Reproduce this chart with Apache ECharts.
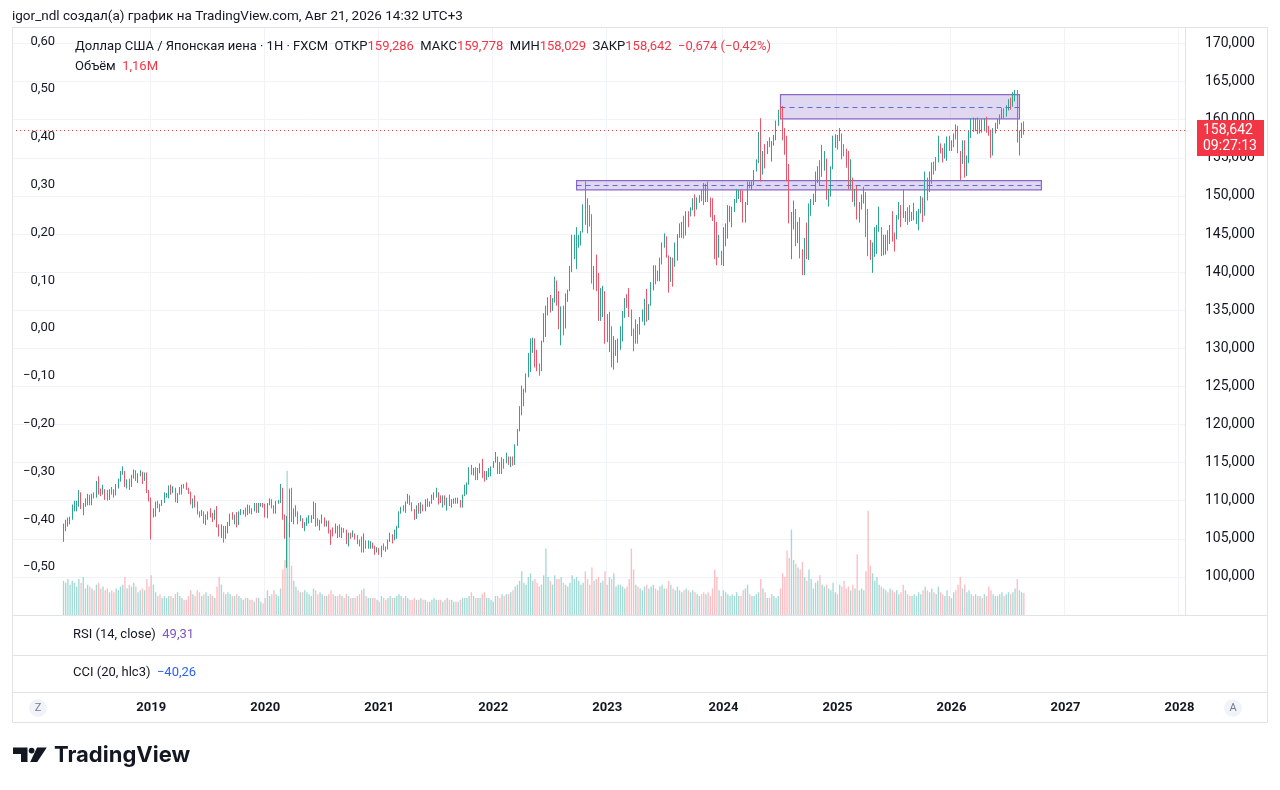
<!DOCTYPE html>
<html>
<head>
<meta charset="utf-8">
<title>USDJPY 1W</title>
<script src="https://cdn.jsdelivr.net/npm/echarts@6/dist/echarts.min.js"></script>
<style>
html, body { margin: 0; padding: 0; background: #fff; }
#chart { width: 1280px; height: 790px; }
</style>
</head>
<body>
<div id="chart"></div>
<script>
var FONT = 'Roboto, "Noto Sans", "DejaVu Sans", sans-serif';
var upColor = '#2fa58f';
var downColor = '#ef5468';
var volUp = 'rgba(38,166,154,0.42)';
var volDown = 'rgba(242,54,69,0.32)';
var tagRed = '#f23645';

// weekly axis: first category and count, first candle week
var firstWeek = '2017-10-16';
var weekCount = 535;
var dataStart = '2018-03-26';

// weekly candles [open, close, low, high]
var ohlc2018 = [
  [104.7,106.3,104.6,107.0],[106.3,106.9,106.0,107.5],[106.9,107.4,106.6,107.8],[107.4,107.6,106.9,107.9],
  [107.6,109.0,107.5,109.5],[109.0,109.1,108.6,110.0],[109.1,109.4,108.6,110.0],[109.4,110.8,109.2,111.4],
  [110.8,109.4,108.9,111.1],[109.4,109.5,108.1,109.7],[109.5,109.6,109.2,110.3],[109.6,110.7,109.4,110.9],
  [110.7,109.9,109.4,110.8],[109.9,110.7,109.4,110.9],[110.7,110.5,110.3,111.1],[110.5,112.4,110.4,112.6],
  [112.4,111.4,110.8,113.2],[111.4,111.0,110.6,111.6],[111.0,111.2,110.8,112.1],[111.2,110.9,110.1,111.5],
  [110.9,110.5,110.0,111.4],[110.5,111.2,110.1,111.5],[111.2,111.0,110.8,111.8],[111.0,110.9,110.4,111.5],
  [110.9,112.0,110.7,112.2],[112.0,112.6,111.6,112.9],[112.6,113.7,112.5,113.9],[113.7,113.8,113.4,114.5],
  [113.8,112.2,111.8,113.9],[112.2,112.5,111.6,112.8],[112.5,111.9,111.4,112.9],[111.9,113.2,111.8,113.4],
  [113.2,113.8,112.9,114.1],[113.8,112.8,112.6,114.0],[112.8,113.5,112.3,113.6],[113.5,113.6,113.2,114.0],
  [113.6,112.7,112.2,113.8],[112.7,113.4,112.6,113.7],[113.4,111.2,111.0,113.7],[111.2,110.3,109.9,111.4]
];
var ohlc2019 = [
  [110.3,108.5,104.9,110.4],[108.5,108.6,107.8,109.0],[108.6,109.8,107.9,109.9],[109.8,109.5,109.0,110.0],
  [109.5,109.4,108.5,109.6],[109.4,109.7,109.3,110.1],[109.7,110.5,109.7,111.1],[110.5,110.7,110.4,111.0],
  [110.7,111.9,110.3,112.0],[111.9,111.2,110.8,112.1],[111.2,111.5,111.0,111.9],[111.5,109.9,109.8,111.7],
  [109.9,110.9,109.7,111.0],[110.9,111.7,110.8,111.8],[111.7,112.0,110.8,112.1],[112.0,111.9,111.6,112.2],
  [111.9,111.6,111.4,112.4],[111.6,111.1,110.9,111.7],[111.1,109.9,109.5,111.2],[109.9,110.1,109.0,110.3],
  [110.1,109.3,109.1,110.7],[109.3,108.3,108.2,109.9],[108.3,108.2,107.8,108.6],[108.2,108.5,108.0,108.8],
  [108.5,107.3,107.0,108.6],[107.3,107.8,106.8,108.2],[107.8,108.5,107.5,108.6],[108.5,107.9,107.8,109.0],
  [107.9,107.7,107.2,108.4],[107.7,108.7,107.5,108.8],[108.7,106.6,106.5,109.3],[106.6,105.7,105.3,106.9],
  [105.7,106.4,105.1,106.9],[106.4,105.4,104.5,106.7],[105.4,106.3,105.0,106.7],[106.3,106.9,105.7,107.2],
  [106.9,108.1,106.7,108.3],[108.1,107.6,107.5,108.5],[107.6,107.9,106.9,108.2],[107.9,106.9,106.5,108.5],
  [106.9,108.3,106.8,108.6],[108.3,108.4,108.1,108.9],[108.4,108.7,108.2,108.8],[108.7,108.2,107.9,109.1],
  [108.2,109.3,108.1,109.5],[109.3,108.8,108.3,109.4],[108.8,108.7,108.2,109.0],[108.7,109.5,108.6,109.7],
  [109.5,108.6,108.4,109.7],[108.6,109.4,108.4,109.7],[109.4,109.5,109.2,109.7],[109.5,109.4,109.1,109.7]
];
var ohlc2020 = [
  [109.4,108.1,107.8,109.6],[108.1,109.5,107.7,109.7],[109.5,110.1,109.4,110.3],[110.1,109.3,109.0,110.2],
  [109.3,108.4,108.3,109.4],[108.4,109.7,108.3,110.0],[109.7,109.8,109.6,110.1],[109.8,111.6,109.7,112.2],
  [111.6,107.9,107.5,111.7],[107.9,105.4,105.0,108.2],[105.4,107.9,101.2,108.0],[107.9,110.8,105.2,111.6],
  [110.8,107.9,107.2,111.7],[107.9,108.4,106.9,109.0],[108.4,108.5,107.9,109.4],[108.5,107.5,106.9,108.6],
  [107.5,107.6,107.3,108.1],[107.6,106.9,106.4,107.7],[106.9,107.1,106.0,107.2],[107.1,107.2,106.7,107.8],
  [107.2,107.6,107.0,108.1],[107.6,107.8,107.1,108.1],[107.8,109.6,107.6,109.9],[109.6,107.4,106.6,109.7],
  [107.4,106.9,106.7,107.7],[106.9,107.2,106.1,107.5],[107.2,107.5,107.0,108.2],[107.5,106.9,106.6,107.8],
  [106.9,107.0,106.6,107.4],[107.0,106.1,105.7,107.4],[106.1,105.9,104.2,106.2],[105.9,105.8,105.3,106.5],
  [105.8,106.6,105.7,107.0],[106.6,105.8,105.1,106.7],[105.8,105.4,105.2,106.9],[105.4,106.2,105.1,106.5],
  [106.2,106.1,105.8,106.4],[106.1,104.6,104.3,106.2],[104.6,105.6,104.0,105.8],[105.6,105.3,105.0,105.8],
  [105.3,105.6,105.2,106.1],[105.6,105.4,104.9,105.7],[105.4,104.7,104.3,105.5],[104.7,104.6,104.0,104.9],
  [104.6,103.4,103.2,105.3],[103.4,104.6,103.2,105.7],[104.6,103.9,103.7,104.8],[103.9,104.1,103.7,104.8],
  [104.1,104.2,103.7,104.7],[104.2,104.0,103.7,104.5],[104.0,103.3,102.9,104.1],[103.3,103.6,103.2,103.9],
  [103.6,103.2,102.9,103.8]
];
var ohlc2021 = [
  [103.2,103.9,102.6,104.1],[103.9,103.8,103.5,104.4],[103.8,103.7,103.3,104.0],[103.7,104.7,103.6,104.9],
  [104.7,105.4,104.6,105.8],[105.4,104.9,104.4,105.6],[104.9,105.5,104.8,106.2],[105.5,106.6,105.0,106.7],
  [106.6,108.4,106.4,108.6],[108.4,109.0,108.3,109.2],[109.0,108.9,108.6,109.4],[108.9,109.7,108.4,109.9],
  [109.7,110.6,109.6,110.9],[110.6,109.7,109.4,110.7],[109.7,108.8,108.6,109.8],[108.8,107.9,107.5,108.9],
  [107.9,109.3,107.6,109.4],[109.3,108.6,108.3,109.7],[108.6,109.4,108.3,109.8],[109.4,108.9,108.6,109.5],
  [108.9,109.8,108.6,110.2],[109.8,109.5,109.2,110.3],[109.5,109.7,109.2,109.9],[109.7,110.2,109.6,110.8],
  [110.2,110.8,110.1,111.1],[110.8,111.0,110.4,111.7],[111.0,110.1,109.5,111.1],[110.1,110.0,109.7,110.7],
  [110.0,110.6,109.1,110.7],[110.6,109.7,109.4,110.7],[109.7,110.2,108.7,110.4],[110.2,109.6,109.3,110.8],
  [109.6,109.8,109.1,110.2],[109.8,109.9,109.6,110.3],[109.9,109.7,109.6,110.4],[109.7,109.9,109.6,110.4],
  [109.9,109.8,109.1,110.1],[109.8,110.7,109.1,110.8],[110.7,111.1,110.6,112.1],[111.1,112.2,110.8,112.4],
  [112.2,114.2,112.1,114.4],[114.2,113.5,113.4,114.7],[113.5,114.0,113.3,114.3],[114.0,113.4,112.7,114.4],
  [113.4,113.9,112.7,114.3],[113.9,114.0,113.6,114.9],[114.0,113.4,113.0,115.5],[113.4,112.8,112.5,113.9],
  [112.8,113.4,112.7,113.9],[113.4,113.7,113.1,114.3],[113.7,114.4,113.2,114.5],[114.4,115.1,114.3,115.2]
];
var ohlc2022 = [
  [115.1,115.6,115.0,116.4],[115.6,114.2,113.5,115.8],[114.2,113.7,113.5,115.1],[113.7,115.3,113.5,115.7],
  [115.3,115.2,114.2,115.5],[115.2,115.4,114.9,116.3],[115.4,115.0,114.7,115.8],[115.0,115.6,114.4,115.8],
  [115.6,114.8,114.6,115.8],[114.8,117.3,114.7,117.4],[117.3,119.2,117.2,119.4],[119.2,122.1,119.1,122.4],
  [122.1,122.5,121.2,125.1],[122.5,124.3,122.4,124.7],[124.3,126.4,124.2,126.7],[126.4,128.5,126.2,129.4],
  [128.5,129.8,126.9,131.3],[129.8,130.6,129.4,131.4],[130.6,129.2,127.5,131.3],[129.2,127.9,127.0,129.8],
  [127.9,127.1,126.4,128.0],[127.1,130.9,127.0,131.0],[130.9,134.4,130.8,134.6],[134.4,135.0,131.5,135.6],
  [135.0,135.2,134.3,136.7],[135.2,135.1,134.7,137.0],[135.1,136.1,134.9,136.6],[136.1,138.5,136.0,139.4],
  [138.5,136.1,135.6,138.9],[136.1,133.3,132.5,137.5],[133.3,135.0,130.4,135.5],[135.0,133.4,131.7,135.6],
  [133.4,137.0,132.6,137.2],[137.0,137.6,136.1,137.7],[137.6,140.2,137.5,140.8],[140.2,142.6,140.0,144.9],
  [142.6,142.9,141.7,144.9],[142.9,143.3,140.4,145.9],[143.3,144.7,143.2,144.9],[144.7,145.3,143.5,145.4],
  [145.3,148.7,145.2,148.9],[148.7,147.7,146.2,151.9],[147.7,147.5,145.1,149.7],[147.5,146.6,146.0,148.8],
  [146.6,138.8,138.5,147.6],[138.8,140.4,137.7,140.8],[140.4,138.2,137.5,142.3],[138.2,134.3,133.6,139.9],
  [134.3,136.6,133.6,137.9],[136.6,136.7,134.1,138.2],[136.7,132.9,130.6,137.5],[132.9,131.1,130.8,134.5]
];
var ohlc2023 = [
  [131.1,132.1,129.5,134.8],[132.1,127.9,127.5,132.9],[127.9,129.6,127.2,131.6],[129.6,129.9,129.0,131.1],
  [129.9,131.2,128.1,131.3],[131.2,131.4,129.8,132.9],[131.4,134.2,130.9,134.9],[134.2,136.5,134.0,136.6],
  [136.5,135.8,135.3,137.1],[135.8,135.0,134.1,137.9],[135.0,131.8,131.6,135.1],[131.8,130.7,129.6,132.6],
  [130.7,132.8,130.6,133.8],[132.8,132.2,130.6,133.2],[132.2,133.8,131.8,134.1],[133.8,134.2,133.5,135.1],
  [134.2,136.3,133.0,136.5],[136.3,134.8,133.5,137.8],[134.8,135.7,133.7,135.8],[135.7,137.9,135.6,138.7],
  [137.9,140.6,137.6,140.9],[140.6,139.9,138.4,140.9],[139.9,139.4,138.8,140.2],[139.4,141.8,138.8,141.9],
  [141.8,143.7,141.0,143.9],[143.7,144.3,143.2,145.1],[144.3,142.1,141.9,144.7],[142.1,138.8,137.3,142.2],
  [138.8,141.8,138.7,142.0],[141.8,141.2,138.1,141.9],[141.2,141.8,140.7,143.9],[141.8,144.9,141.5,145.0],
  [144.9,145.4,144.5,146.4],[145.4,146.4,144.5,146.6],[146.4,144.9,144.4,147.4],[144.9,147.9,144.8,148.0],
  [147.9,147.8,145.9,148.0],[147.8,148.4,147.3,148.5],[148.4,149.4,148.1,149.7],[149.4,149.3,147.3,150.2],
  [149.3,149.6,148.2,149.8],[149.6,149.9,149.1,150.1],[149.9,149.6,149.3,150.8],[149.6,149.4,148.8,151.7],
  [149.4,151.5,149.2,151.6],[151.5,149.6,149.2,151.9],[149.6,149.4,147.2,149.8],[149.4,146.8,146.7,149.7],
  [146.8,144.9,141.7,147.5],[144.9,142.2,140.9,146.6],[142.2,142.4,141.9,144.9],[142.4,141.0,140.9,142.8]
];
var ohlc2024 = [
  [141.0,144.6,140.8,145.9],[144.6,144.9,143.4,146.4],[144.9,148.1,144.4,148.8],[148.1,148.2,146.6,148.7],
  [148.2,148.4,145.9,148.6],[148.4,149.3,147.9,149.6],[149.3,150.2,149.1,150.9],[150.2,150.5,149.6,150.8],
  [150.5,150.1,149.2,150.8],[150.1,147.1,146.5,150.7],[147.1,149.1,146.5,149.2],[149.1,151.4,148.8,151.9],
  [151.4,151.3,151.0,151.9],[151.3,151.6,150.8,151.9],[151.6,153.3,151.4,153.4],[153.3,154.6,153.2,154.8],
  [154.6,158.3,154.3,158.4],[158.3,153.0,151.9,160.2],[153.0,155.8,152.8,155.9],[155.8,155.7,153.6,156.8],
  [155.7,157.0,155.5,157.2],[157.0,156.8,156.4,157.7],[156.8,157.0,154.5,157.2],[157.0,157.4,156.6,158.0],
  [157.4,159.8,157.3,159.9],[159.8,160.9,159.2,161.3],[160.9,160.8,160.3,161.95],[160.8,157.9,157.3,161.8],
  [157.9,157.5,155.4,158.9],[157.5,153.8,151.9,157.9],[153.8,146.5,146.4,154.2],[146.5,147.6,141.7,147.9],
  [147.6,147.7,145.6,149.4],[147.7,144.4,143.4,148.3],[144.4,146.2,143.8,146.6],[146.2,142.3,141.8,147.2],
  [142.3,140.8,139.6,143.0],[140.8,143.9,139.6,144.5],[143.9,142.2,141.7,146.5],[142.2,148.7,141.6,149.0],
  [148.7,149.2,147.4,149.6],[149.2,149.5,148.8,150.3],[149.5,152.3,149.2,153.2],[152.3,152.9,151.7,153.9],
  [152.9,152.6,151.3,154.7],[152.6,154.3,152.5,156.7],[154.3,154.8,153.3,155.9],[154.8,149.8,149.5,154.9],
  [149.8,150.0,148.6,150.9],[150.0,153.6,149.9,153.9],[153.6,156.4,153.5,157.9],[156.4,157.9,156.3,158.1],
  [157.9,157.3,156.1,158.0]
];
var ohlc2025 = [
  [157.3,157.7,157.2,158.9],[157.7,156.3,154.8,158.2],[156.3,156.0,155.2,156.8],[156.0,155.2,153.7,156.2],
  [155.2,151.4,150.9,155.9],[151.4,151.9,150.9,154.8],[151.9,149.3,149.2,152.4],[149.3,150.6,148.6,150.9],
  [150.6,148.0,146.9,151.3],[148.0,148.6,146.5,149.2],[148.6,149.3,148.2,150.2],[149.3,149.8,149.0,151.2],
  [149.8,146.9,144.6,150.5],[146.9,143.5,142.1,148.3],[143.5,142.2,141.6,144.2],[142.2,143.7,139.9,143.9],
  [143.7,144.9,142.0,145.9],[144.9,145.4,142.4,146.2],[145.4,145.7,145.3,148.6],[145.7,142.6,142.1,145.9],
  [142.6,144.0,142.2,144.9],[144.0,144.8,142.3,144.9],[144.8,144.1,142.8,145.5],[144.1,146.1,143.7,146.2],
  [146.1,144.6,144.0,148.0],[144.6,144.5,142.7,145.2],[144.5,147.4,144.3,147.5],[147.4,148.6,146.9,149.2],
  [148.6,147.7,145.9,148.8],[147.7,147.4,147.1,150.9],[147.4,147.7,146.6,148.0],[147.7,147.2,146.2,148.5],
  [147.2,146.9,146.6,148.8],[146.9,147.1,146.7,147.9],[147.1,147.4,146.8,149.1],[147.4,147.7,146.3,148.0],
  [147.7,148.0,145.5,148.3],[148.0,149.5,147.7,150.0],[149.5,147.5,146.6,149.8],[147.5,151.2,147.4,153.2],
  [151.2,150.6,149.4,152.4],[150.6,152.9,150.5,153.2],[152.9,154.0,151.6,154.4],[154.0,153.4,152.8,154.5],
  [153.4,154.6,153.3,155.1],[154.6,156.4,154.4,157.9],[156.4,156.2,155.6,156.9],[156.2,155.0,154.4,156.3],
  [155.0,155.8,154.9,156.9],[155.8,157.7,154.6,157.8],[157.7,156.5,155.9,157.9]
];
var ohlc2026 = [
  [156.5,156.8,155.9,157.3],[156.8,158.1,156.4,158.2],[158.1,158.0,157.4,159.4],[158.0,155.7,155.6,159.2],
  [155.7,154.4,152.1,155.9],[154.4,157.1,154.2,157.3],[157.1,152.8,152.4,157.3],[152.8,155.0,152.6,155.3],
  [155.0,158.2,154.3,158.6],[158.2,159.9,157.6,160.2],[159.9,159.3,158.4,160.3],[159.3,159.7,158.5,160.2],
  [159.7,158.6,158.1,160.3],[158.6,159.6,158.2,160.0],[159.6,158.9,158.3,160.1],[158.9,159.7,158.5,160.2],
  [159.7,158.8,158.3,160.4],[158.8,158.4,157.9,159.2],[158.4,155.6,155.0,158.7],[155.6,158.7,155.3,158.9],
  [158.7,159.3,158.2,159.6],[159.3,159.8,158.8,160.1],[159.8,160.4,159.4,160.7],[160.4,161.1,160.1,161.5],
  [161.1,160.6,160.2,161.5],[160.6,161.6,160.4,161.9],[161.6,162.3,161.2,162.7],[162.3,161.9,161.3,162.9],
  [161.9,163.2,161.7,163.6],[163.2,163.5,162.4,163.9],[163.5,157.4,157.0,163.9],[157.4,157.9,155.3,158.6],
  [157.9,159.3,157.6,159.6],[159.286,158.642,158.029,159.778]
];

// weekly volume, millions
var vol2018 = [1.8,1.7,1.9,1.6,1.8,1.7,1.5,1.9,1.7,2.0,1.4,1.6,1.5,1.4,1.3,1.6,1.7,1.4,1.5,1.3,1.4,1.2,1.3,1.2,1.4,1.3,1.5,1.6,2.0,1.4,1.6,1.5,1.7,1.5,1.2,1.3,1.4,1.3,1.9,1.5];
var vol2019 = [2.1,1.6,1.2,1.0,1.1,0.9,1.0,0.9,1.0,1.0,0.9,1.1,1.2,1.0,0.9,0.8,0.8,1.0,1.3,1.1,1.0,1.3,1.2,1.0,1.1,1.2,1.0,1.1,1.0,0.9,1.5,2.0,1.6,1.2,1.1,1.2,1.1,1.0,1.0,1.1,1.0,0.9,0.8,0.9,0.9,0.8,0.8,0.7,0.9,0.9,0.7,0.6];
var vol2020 = [0.9,1.3,1.0,1.1,1.3,1.1,1.0,1.4,2.4,2.9,7.6,4.8,2.6,1.8,1.5,1.3,1.2,1.2,1.3,1.2,1.1,1.0,1.4,1.3,1.1,1.2,1.1,1.0,1.0,1.1,1.3,1.1,1.0,1.0,1.1,1.0,0.9,1.1,1.0,0.9,0.9,0.9,1.0,1.1,1.3,1.4,1.0,0.9,0.9,0.9,0.9,0.8,0.7];
var vol2021 = [1.0,0.9,0.8,0.9,1.0,0.9,0.9,1.0,1.1,1.0,0.9,1.0,0.9,0.8,0.8,0.9,0.8,0.8,0.9,0.8,0.8,0.7,0.7,0.8,0.9,0.8,0.8,0.8,0.7,0.8,0.9,0.8,0.8,0.7,0.7,0.7,0.8,0.9,0.9,0.9,1.0,1.2,1.0,0.9,0.9,0.9,1.1,1.2,0.9,0.9,0.8,0.7];
var vol2022 = [1.0,1.0,0.9,1.1,1.0,1.1,1.1,1.2,1.3,1.5,1.6,1.8,2.3,1.7,1.6,2.0,2.2,1.8,1.9,1.7,1.5,1.6,2.1,3.5,2.0,1.8,1.6,2.1,1.9,1.9,2.0,1.7,1.6,1.5,1.7,2.1,1.9,2.0,1.8,1.6,1.7,2.3,1.9,1.6,2.5,1.8,1.9,2.0,1.7,1.8,2.3,1.6];
var vol2023 = [2.0,1.9,2.2,1.5,1.6,1.6,1.5,1.4,1.5,1.9,3.5,2.4,1.6,1.5,1.4,1.3,1.5,1.6,1.4,1.5,1.6,1.4,1.3,1.5,1.6,1.4,1.4,1.8,1.6,1.4,1.3,1.5,1.3,1.2,1.3,1.4,1.3,1.2,1.3,1.2,1.1,1.0,1.1,1.2,1.1,1.2,1.0,1.4,2.4,2.0,1.3,1.0];
var vol2024 = [1.3,1.2,1.1,1.0,1.1,1.0,1.2,1.0,1.0,1.3,1.4,1.6,1.1,1.0,1.0,1.1,1.2,1.9,1.4,1.2,0.9,0.9,1.1,1.0,0.9,1.0,1.4,2.2,2.0,3.4,3.0,4.5,2.9,2.7,2.5,2.4,2.8,2.0,1.8,2.4,1.9,1.4,1.7,1.8,2.1,1.6,1.5,1.6,1.4,1.3,1.7,1.2,1.1];
var vol2025 = [1.6,1.5,1.8,1.4,1.5,1.3,1.6,1.4,3.2,1.3,1.4,1.3,2.3,5.5,2.6,2.2,1.8,2.0,1.6,1.5,1.4,1.3,1.2,1.4,1.3,1.2,1.3,1.1,1.2,1.6,1.3,1.1,1.0,1.0,1.1,1.0,1.2,1.1,1.3,1.5,1.3,1.2,1.4,1.2,1.1,1.5,1.2,1.1,1.0,1.3,1.0];
var vol2026 = [0.9,1.2,1.3,1.6,2.0,1.4,1.6,1.2,1.3,1.1,1.0,1.1,1.0,1.0,0.9,1.1,1.0,1.5,1.3,1.1,1.0,1.0,1.1,1.2,1.0,1.1,1.2,1.1,1.2,1.4,1.9,1.3,1.2,1.16];

var lastPrice = 158.642;
var lastVolume = 1.16;
var lastTimer = '09:27:13';

// drawn zones: [from week, to week, top, bottom, middle]
var upperZone = ['2024-07-01', '2026-08-03', 163.3, 160.1, 161.7];
var lowerZone = ['2022-09-19', '2026-10-12', 152.0, 150.8, 151.4];

var ohlc = [].concat(ohlc2018, ohlc2019, ohlc2020, ohlc2021, ohlc2022, ohlc2023, ohlc2024, ohlc2025, ohlc2026);
var volumes = [].concat(vol2018, vol2019, vol2020, vol2021, vol2022, vol2023, vol2024, vol2025, vol2026);

var weeks = [];
var t0 = Date.parse(firstWeek + 'T00:00:00Z');
for (var i = 0; i < weekCount; i++) {
  weeks.push(new Date(t0 + i * 604800000).toISOString().slice(0, 10));
}
var offset = weeks.indexOf(dataStart);

var candleData = weeks.map(function (w, i) {
  var r = ohlc[i - offset];
  return r ? r : '-';
});
var volumeData = weeks.map(function (w, i) {
  var k = i - offset;
  if (k < 0 || k >= volumes.length) return '-';
  var r = ohlc[k];
  return { value: volumes[k], itemStyle: { color: r[1] >= r[0] ? volUp : volDown } };
});

function yearOf(w) {
  return new Date(Date.parse(w + 'T00:00:00Z') + 6 * 86400000).getUTCFullYear();
}
function isYearWeek(w) {
  var y = yearOf(w);
  var starts = Number(w.slice(0, 4)) !== y || w.slice(5) === '01-01';
  return starts && y >= 2019;
}
function fmt(v, d) {
  if (Math.abs(v) < 1e-9) v = 0;
  return v.toFixed(d).replace('.', ',').replace('-', '\u2212');
}

var chart = echarts.init(document.getElementById('chart'), null, { renderer: 'canvas' });

var option = {
  animation: false,
  backgroundColor: '#ffffff',
  textStyle: { fontFamily: FONT },
  grid: { left: 12, right: 95, top: 27, bottom: 175 },
  xAxis: {
    type: 'category',
    data: weeks,
    boundaryGap: true,
    axisLine: { show: false },
    axisTick: { show: false },
    axisLabel: {
      interval: function (idx, val) { return isYearWeek(val); },
      formatter: function (val) { return String(yearOf(val)); },
      margin: 86,
      color: '#131722',
      fontSize: 13,
      fontWeight: 'bold',
      fontFamily: FONT
    },
    splitLine: {
      show: true,
      interval: function (idx, val) { return isYearWeek(val); },
      lineStyle: { color: '#f0f3fa', width: 1 }
    }
  },
  yAxis: [
    {
      type: 'value',
      position: 'right',
      min: 95,
      max: 172.17,
      interval: 5,
      axisLine: { show: false },
      axisTick: { show: false },
      axisLabel: {
        margin: 20,
        color: '#131722',
        fontSize: 14,
        fontFamily: FONT,
        showMinLabel: false,
        showMaxLabel: false,
        formatter: function (v) { return fmt(v, 3); }
      },
      splitLine: { lineStyle: { color: '#f0f3fa', width: 1 } }
    },
    {
      type: 'value',
      position: 'left',
      min: -0.6,
      max: 0.63,
      interval: 0.1,
      axisLine: { show: false },
      axisTick: { show: false },
      splitLine: { show: false },
      axisLabel: {
        inside: true,
        margin: 43,
        align: 'right',
        color: '#131722',
        fontSize: 13,
        fontFamily: FONT,
        showMinLabel: false,
        showMaxLabel: false,
        formatter: function (v) { return fmt(v, 2); }
      }
    },
    { type: 'value', min: 0, max: 31, show: false }
  ],
  series: [
    {
      type: 'bar',
      name: 'Объём',
      yAxisIndex: 2,
      z: 1,
      data: volumeData,
      barWidth: '62%',
      markLine: {
        silent: true,
        symbol: ['none', 'none'],
        lineStyle: { opacity: 0 },
        data: [{
          yAxis: lastVolume,
          label: {
            show: true,
            position: 'end',
            distance: 12,
            formatter: fmt(lastVolume, 2) + 'M',
            color: '#ffffff',
            backgroundColor: tagRed,
            padding: [2, 9, 1, 6],
            fontSize: 13,
            fontFamily: FONT
          }
        }]
      }
    },
    {
      type: 'candlestick',
      name: 'USDJPY',
      yAxisIndex: 0,
      z: 3,
      data: candleData,
      barWidth: '55%',
      itemStyle: {
        color: upColor,
        color0: downColor,
        borderColor: upColor,
        borderColor0: downColor,
        borderWidth: 1
      },
      markArea: {
        silent: true,
        itemStyle: { color: 'rgba(126,87,194,0.24)', borderColor: '#8a68c6', borderWidth: 1.2 },
        data: [
          [{ xAxis: upperZone[0], yAxis: upperZone[2] }, { xAxis: upperZone[1], yAxis: upperZone[3] }],
          [{ xAxis: lowerZone[0], yAxis: lowerZone[2] }, { xAxis: lowerZone[1], yAxis: lowerZone[3] }]
        ]
      },
      markLine: {
        silent: true,
        symbol: ['none', 'none'],
        label: { show: false },
        data: [
          [
            { coord: [upperZone[0], upperZone[4]], lineStyle: { color: '#5c6bd6', type: [5, 4], width: 1 } },
            { coord: [upperZone[1], upperZone[4]] }
          ],
          [
            { coord: [lowerZone[0], lowerZone[4]], lineStyle: { color: '#5c6bd6', type: [5, 4], width: 1 } },
            { coord: [lowerZone[1], lowerZone[4]] }
          ],
          {
            yAxis: lastPrice,
            lineStyle: { color: tagRed, type: [1, 3], width: 1 },
            label: {
              show: true,
              position: 'end',
              distance: 12,
              offset: [0, 8],
              formatter: fmt(lastPrice, 3) + '\n' + lastTimer,
              color: '#ffffff',
              backgroundColor: tagRed,
              padding: [2, 7, 2, 6],
              lineHeight: 16,
              fontSize: 14,
              fontFamily: FONT
            }
          }
        ]
      }
    }
  ],
  graphic: [
    { type: 'rect', silent: true, z: 100, shape: { x: 12.5, y: 27.5, width: 1255, height: 695 }, style: { fill: 'none', stroke: '#e0e3eb', lineWidth: 1 } },
    { type: 'line', silent: true, z: 100, shape: { x1: 12, y1: 615.5, x2: 1268, y2: 615.5 }, style: { stroke: '#e0e3eb', lineWidth: 1 } },
    { type: 'line', silent: true, z: 100, shape: { x1: 12, y1: 655.5, x2: 1268, y2: 655.5 }, style: { stroke: '#e0e3eb', lineWidth: 1 } },
    { type: 'line', silent: true, z: 100, shape: { x1: 12, y1: 692.5, x2: 1268, y2: 692.5 }, style: { stroke: '#e0e3eb', lineWidth: 1 } },
    { type: 'line', silent: true, z: 100, shape: { x1: 1185.5, y1: 27, x2: 1185.5, y2: 615 }, style: { stroke: '#e0e3eb', lineWidth: 1 } },
    {
      type: 'text', silent: true, z: 100, x: 12, y: 17,
      style: { text: 'igor_ndl создал(а) график на TradingView.com, Авг 21, 2026 14:32 UTC+3', fill: '#131722', fontSize: 13.5, fontFamily: FONT, verticalAlign: 'middle' }
    },
    {
      type: 'text', silent: true, z: 100, x: 75, y: 47,
      style: {
        text: '{t|Доллар США / Японская иена · 1Н · FXCM}  {t|ОТКР}{v|' + fmt(159.286, 3) + '}  {t|МАКС}{v|' + fmt(159.778, 3) +
          '}  {t|МИН}{v|' + fmt(158.029, 3) + '}  {t|ЗАКР}{v|' + fmt(lastPrice, 3) + '}  {v|' + fmt(-0.674, 3) + ' (' + fmt(-0.42, 2) + '%)}',
        fontSize: 13, fontFamily: FONT, verticalAlign: 'middle',
        rich: {
          t: { fill: '#131722', fontSize: 13, fontFamily: FONT },
          v: { fill: tagRed, fontSize: 13, fontFamily: FONT }
        }
      }
    },
    {
      type: 'text', silent: true, z: 100, x: 75, y: 67,
      style: {
        text: '{t|Объём}  {v|' + fmt(lastVolume, 2) + 'M}',
        fontSize: 13, fontFamily: FONT, verticalAlign: 'middle',
        rich: {
          t: { fill: '#131722', fontSize: 13, fontFamily: FONT },
          v: { fill: tagRed, fontSize: 13, fontFamily: FONT }
        }
      }
    },
    {
      type: 'text', silent: true, z: 100, x: 73, y: 635,
      style: {
        text: '{t|RSI (14, close)}  {p|49,31}',
        fontSize: 13, fontFamily: FONT, verticalAlign: 'middle',
        rich: { t: { fill: '#131722', fontSize: 13, fontFamily: FONT }, p: { fill: '#7e57c2', fontSize: 13, fontFamily: FONT } }
      }
    },
    {
      type: 'text', silent: true, z: 100, x: 73, y: 673,
      style: {
        text: '{t|CCI (20, hlc3)}  {p|' + fmt(-40.26, 2) + '}',
        fontSize: 13, fontFamily: FONT, verticalAlign: 'middle',
        rich: { t: { fill: '#131722', fontSize: 13, fontFamily: FONT }, p: { fill: '#2962ff', fontSize: 13, fontFamily: FONT } }
      }
    },
    { type: 'circle', silent: true, z: 100, shape: { cx: 38, cy: 708, r: 9 }, style: { fill: '#f0f3fa' } },
    { type: 'text', silent: true, z: 101, x: 38, y: 708, style: { text: 'Z', fill: '#787b86', fontSize: 11, fontFamily: FONT, align: 'center', verticalAlign: 'middle' } },
    { type: 'circle', silent: true, z: 100, shape: { cx: 1233, cy: 708, r: 9 }, style: { fill: '#f0f3fa' } },
    { type: 'text', silent: true, z: 101, x: 1233, y: 708, style: { text: 'A', fill: '#787b86', fontSize: 11, fontFamily: FONT, align: 'center', verticalAlign: 'middle' } },
    // TradingView logo
    { type: 'polygon', silent: true, z: 100, shape: { points: [[13, 747.5], [27.5, 747.5], [27.5, 762], [21, 762], [21, 754], [13, 754]] }, style: { fill: '#131722' } },
    { type: 'circle', silent: true, z: 100, shape: { cx: 31.6, cy: 750.6, r: 2.9 }, style: { fill: '#131722' } },
    { type: 'polygon', silent: true, z: 100, shape: { points: [[37, 747.5], [46.8, 747.5], [37.2, 762], [30.2, 762]] }, style: { fill: '#131722' } },
    { type: 'text', silent: true, z: 100, x: 54, y: 755.5, style: { text: 'TradingView', fill: '#131722', fontSize: 22, fontWeight: 'bold', fontFamily: 'Inter, Roboto, sans-serif', verticalAlign: 'middle' } }
  ]
};

chart.setOption(option);
</script>
</body>
</html>
